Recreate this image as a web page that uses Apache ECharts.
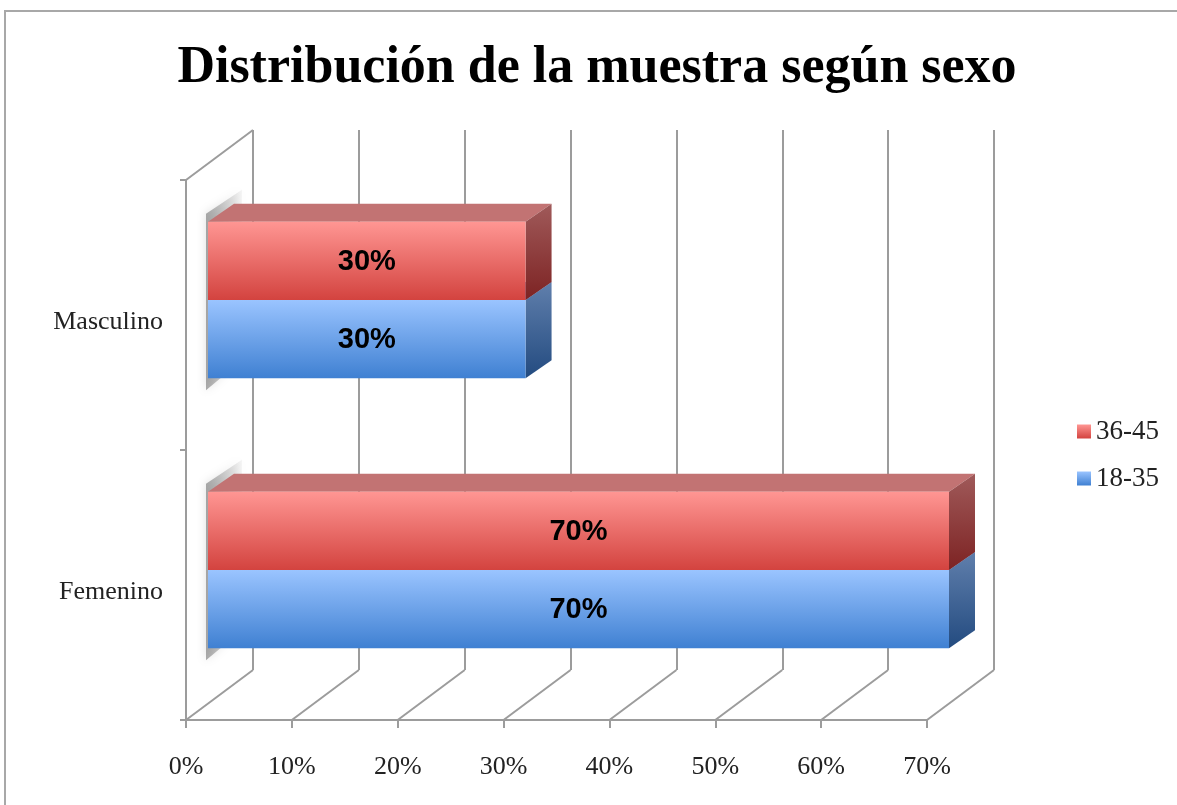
<!DOCTYPE html>
<html>
<head>
<meta charset="utf-8">
<title>Distribución de la muestra según sexo</title>
<script src="https://cdn.jsdelivr.net/npm/echarts@6/dist/echarts.min.js"></script>
<style>
    html, body { margin: 0; padding: 0; background: #fff; }
    #chart { width: 1177px; height: 805px; }
</style>
</head>
<body>
<div id="chart"></div>
<script>
// datos del gráfico
var categorias = ['Femenino', 'Masculino']; // de abajo hacia arriba
var serie1835 = [70, 30];
var serie3645 = [70, 30];
var ticksX = [0, 10, 20, 30, 40, 50, 60, 70];

// perspectiva 3D (pixeles)
var FONDO = [67, -50];     // desplazamiento pared del fondo
var BARRA_POS = [22, -15]; // cara frontal de las barras
var BARRA_PROF = [26, -18]; // profundidad de la barra

var gris = '#9c9c9c';
var serif = '"Liberation Serif", serif';

/*
* dibuja una barra 3D
* @param arriba true si la barra va encima (36-45)
*/
function barra3d(arriba, colores) {
    return function (params, api) {
        var cat = api.value(1);
        var val = api.value(0);
        var p0 = api.coord([0, cat]);
        var p1 = api.coord([val, cat]);
        var banda = api.size([0, 1])[1];
        var h = banda * 0.29;
        var cy = p0[1] + BARRA_POS[1];
        var y0 = arriba ? cy - h : cy;
        var y1 = arriba ? cy : cy + h;
        var x0 = p0[0] + BARRA_POS[0];
        var x1 = p1[0] + BARRA_POS[0];
        var dx = BARRA_PROF[0], dy = BARRA_PROF[1];
        var hijos = [];
        // sombra sobre la pared izquierda (una por categoria, debajo de todo)
        if (!arriba) {
            var ya = cy - h;
            hijos.push({
                type: 'polygon',
                z2: 0,
                shape: { points: [[x0 - 2, ya - 8], [x0 + dx + 8, ya + dy - 14], [x0 + dx + 8, y1 + dy], [x0 - 2, y1 + 12]] },
                style: {
                    fill: { type: 'linear', x: 0, y: 0, x2: 1, y2: 0, colorStops: [
                        { offset: 0, color: 'rgba(90,90,90,0.5)' }, { offset: 1, color: 'rgba(90,90,90,0.05)' }] },
                    shadowBlur: 10, shadowColor: 'rgba(0,0,0,0.25)'
                }
            });
        }
        // cara superior
        hijos.push({
            type: 'polygon',
            z2: 1,
            shape: { points: [[x0, y0], [x0 + dx, y0 + dy], [x1 + dx, y0 + dy], [x1, y0]] },
            style: { fill: colores.arriba }
        });
        // cara lateral
        hijos.push({
            type: 'polygon',
            z2: 1,
            shape: { points: [[x1, y0], [x1 + dx, y0 + dy], [x1 + dx, y1 + dy], [x1, y1]] },
            style: { fill: { type: 'linear', x: 0, y: 0, x2: 0, y2: 1, colorStops: [
                { offset: 0, color: colores.lado[0] }, { offset: 1, color: colores.lado[1] }] } }
        });
        // cara frontal
        hijos.push({
            type: 'rect',
            z2: 2,
            shape: { x: x0, y: y0, width: x1 - x0, height: y1 - y0 },
            style: { fill: { type: 'linear', x: 0, y: 0, x2: 0, y2: 1, colorStops: [
                { offset: 0, color: colores.frente[0] }, { offset: 1, color: colores.frente[1] }] } }
        });
        // etiqueta
        hijos.push({
            type: 'text',
            z2: 3,
            style: {
                text: val + '%',
                x: (x0 + x1) / 2, y: (y0 + y1) / 2 + 1,
                align: 'center', verticalAlign: 'middle',
                font: 'bold 29px "Liberation Sans", Arial, sans-serif',
                fill: '#000'
            }
        });
        return { type: 'group', children: hijos };
    };
}

var rojo = { frente: ['#ff9693', '#d3433f'], arriba: '#c27373', lado: ['#a05a5a', '#7d2323'] };
var azul = { frente: ['#9ac4ff', '#3f80d2'], arriba: '#6f8fbf', lado: ['#607fac', '#234b80'] };

var grid0 = { left: 186, right: 250, top: 180, bottom: 85 };
var grid1 = {
    left: grid0.left + FONDO[0], right: grid0.right - FONDO[0],
    top: grid0.top + FONDO[1], bottom: grid0.bottom - FONDO[1]
};

var myChart = echarts.init(document.getElementById('chart'), null, { renderer: 'canvas' });
var option = {
    animation: false,
    title: {
        text: 'Distribución de la muestra según sexo',
        left: 592, top: 38, textAlign: 'center',
        textStyle: { fontFamily: serif, fontWeight: 'bold', fontSize: 52, color: '#000' }
    },
    legend: {
        orient: 'vertical', left: 1072, top: 413,
        itemWidth: 14, itemHeight: 14, itemGap: 20,
        icon: 'rect',
        data: ['36-45', '18-35'],
        textStyle: { fontFamily: serif, fontSize: 27, color: '#222' }
    },
    graphic: [{
        type: 'rect',
        shape: { x: 5, y: 11, width: 1300, height: 900 },
        style: { fill: 'none', stroke: '#a8a8a8', lineWidth: 2 },
        silent: true
    }],
    grid: [grid0, grid1],
    xAxis: [{
        gridIndex: 0, type: 'value', min: 0, max: 70, interval: 10,
        axisLine: { show: true, lineStyle: { color: gris, width: 2 } },
        axisTick: { show: true, length: 8, lineStyle: { color: gris, width: 2 } },
        axisLabel: { formatter: '{value}%', margin: 34, fontFamily: serif, fontSize: 26, color: '#222' },
        splitLine: { show: false }
    }, {
        gridIndex: 1, type: 'value', min: 0, max: 70, interval: 10,
        axisLine: { show: false }, axisTick: { show: false }, axisLabel: { show: false },
        splitLine: { show: true, lineStyle: { color: gris, width: 2 } }
    }],
    yAxis: [{
        gridIndex: 0, type: 'category', data: categorias,
        axisLine: { show: true, lineStyle: { color: gris, width: 2 } },
        axisTick: { show: true, length: 6, lineStyle: { color: gris, width: 2 } },
        axisLabel: {
            margin: 23,
            formatter: function (v) { return '{c|' + v + '}'; },
            rich: { c: { padding: [14, 0, 0, 0], fontFamily: serif, fontSize: 26, color: '#222' } }
        }
    }, {
        gridIndex: 1, type: 'category', data: categorias,
        axisLine: { show: false }, axisTick: { show: false }, axisLabel: { show: false }, splitLine: { show: false }
    }],
    series: [{
        // diagonales del piso y pared izquierda
        name: 'piso', type: 'custom', xAxisIndex: 0, yAxisIndex: 0, silent: true, z: 1,
        data: ticksX.map(function (t) { return [t, 0]; }),
        renderItem: function (params, api) {
            var cs = params.coordSys;
            var x = api.coord([api.value(0), 0])[0];
            var yb = cs.y + cs.height;
            var lineas = [{
                type: 'line',
                shape: { x1: x, y1: yb, x2: x + FONDO[0], y2: yb + FONDO[1] },
                style: { stroke: gris, lineWidth: 2 }
            }];
            if (params.dataIndex === 0) {
                lineas.push({
                    type: 'line',
                    shape: { x1: x, y1: cs.y, x2: x + FONDO[0], y2: cs.y + FONDO[1] },
                    style: { stroke: gris, lineWidth: 2 }
                });
            }
            return { type: 'group', children: lineas };
        }
    }, {
        name: '18-35', type: 'custom', xAxisIndex: 0, yAxisIndex: 0, z: 3,
        itemStyle: { color: new echarts.graphic.LinearGradient(0, 0, 0, 1, [
            { offset: 0, color: azul.frente[0] }, { offset: 1, color: azul.frente[1] }]) },
        encode: { x: 0, y: 1 },
        data: serie1835.map(function (v, i) { return [v, i]; }),
        renderItem: barra3d(false, azul)
    }, {
        name: '36-45', type: 'custom', xAxisIndex: 0, yAxisIndex: 0, z: 4,
        itemStyle: { color: new echarts.graphic.LinearGradient(0, 0, 0, 1, [
            { offset: 0, color: rojo.frente[0] }, { offset: 1, color: rojo.frente[1] }]) },
        encode: { x: 0, y: 1 },
        data: serie3645.map(function (v, i) { return [v, i]; }),
        renderItem: barra3d(true, rojo)
    }]
};
myChart.setOption(option);
window.addEventListener('resize', myChart.resize);
</script>
</body>
</html>
